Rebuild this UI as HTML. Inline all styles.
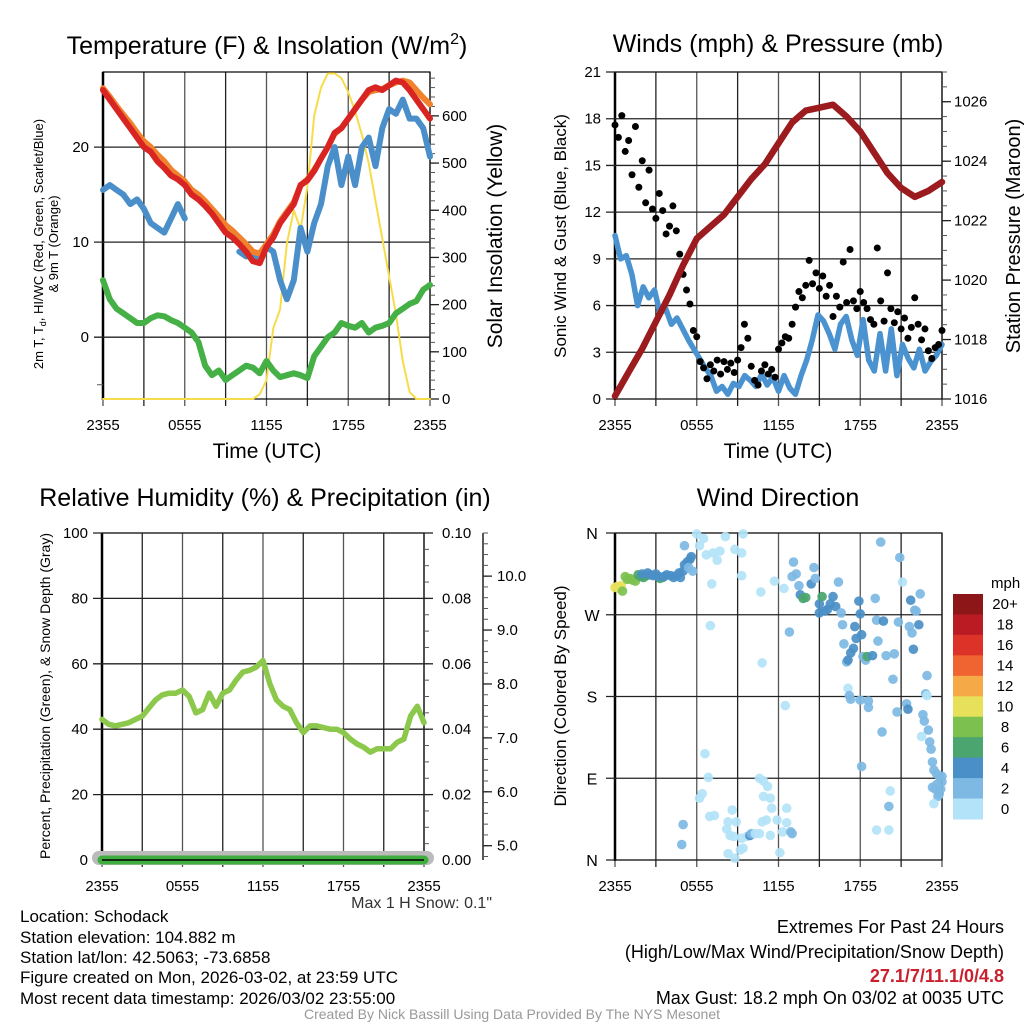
<!DOCTYPE html>
<html><head><meta charset="utf-8"><title>Mesonet Meteogram - Schodack</title>
<style>
html,body{margin:0;padding:0;background:#fff;}
svg{display:block;font-family:"Liberation Sans",Arial,sans-serif;}
</style></head>
<body>
<svg id="fig" width="1024" height="1024" viewBox="0 0 1024 1024" xmlns="http://www.w3.org/2000/svg">
<rect x="0" y="0" width="1024" height="1024" fill="#fff"/>
<g font-size="25" text-anchor="middle" fill="#000">
<text x="267" y="54">Temperature (F) &amp; Insolation (W/m<tspan font-size="16" dy="-10">2</tspan><tspan dy="10">)</tspan></text>
<text x="778" y="52">Winds (mph) &amp; Pressure (mb)</text>
<text x="265" y="506">Relative Humidity (%) &amp; Precipitation (in)</text>
<text x="778" y="506">Wind Direction</text>
</g>
<g font-size="21" text-anchor="middle">
<text x="267" y="458">Time (UTC)</text>
<text x="778" y="458">Time (UTC)</text>
</g>
<g font-size="13" text-anchor="middle">
<text transform="translate(43,244) rotate(-90)">2m T, T<tspan font-size="9" dy="3">d</tspan><tspan dy="-3">, HI/WC (Red, Green, Scarlet/Blue)</tspan></text>
<text transform="translate(58,244) rotate(-90)">&amp; 9m T (Orange)</text>
<text transform="translate(50,696) rotate(-90)" font-size="14">Percent, Precipitation (Green), &amp; Snow Depth (Gray)</text>
</g>
<g font-size="21" text-anchor="middle">
<text transform="translate(502,236) rotate(-90)">Solar Insolation (Yellow)</text>
<text transform="translate(1020,236) rotate(-90)" font-size="20">Station Pressure (Maroon)</text>
</g>
<g font-size="17" text-anchor="middle">
<text transform="translate(566,236) rotate(-90)">Sonic Wind &amp; Gust (Blue, Black)</text>
<text transform="translate(566,696) rotate(-90)">Direction (Colored By Speed)</text>
</g>
<g font-size="17" fill="#000">
<text x="20" y="922">Location: Schodack</text>
<text x="20" y="943">Station elevation: 104.882 m</text>
<text x="20" y="963">Station lat/lon: 42.5063; -73.6858</text>
<text x="20" y="983">Figure created on Mon, 2026-03-02, at 23:59 UTC</text>
<text x="20" y="1004">Most recent data timestamp: 2026/03/02 23:55:00</text>
<text x="492" y="908" font-size="16" text-anchor="end" fill="#333">Max 1 H Snow: 0.1"</text>
</g>
<g font-size="18" text-anchor="end">
<text x="1004" y="933">Extremes For Past 24 Hours</text>
<text x="1004" y="958">(High/Low/Max Wind/Precipitation/Snow Depth)</text>
<text x="1004" y="982" fill="#c8202c" font-weight="bold">27.1/7/11.1/0/4.8</text>
<text x="1004" y="1004">Max Gust: 18.2 mph On 03/02 at 0035 UTC</text>
</g>
<text x="512" y="1019" font-size="14" fill="#999" text-anchor="middle">Created By Nick Bassill Using Data Provided By The NYS Mesonet</text>
<g id="layer"></g>
</svg>
<script>
// ---- Temperature panel data (evenly spaced over 24 h) ----
const timeTickLabels = ["2355","0555","1155","1755","2355"];
const airTemp = [26,25,24,23,22,21,20,19.5,18.5,17.8,17,16.6,16,15,14.5,13.8,13,12,11,10.5,9.8,9,8,7.8,9.5,10.5,12,13,14,16,16.5,17.5,18.8,20,21.5,22,23,24,25,26,26.3,26,26.5,27,26.8,26,25,24,23];
const temp9m = [26.2,25.3,24.3,23.4,22.5,21.5,20.6,20,19.2,18.5,17.6,17,16.4,15.5,15,14.3,13.5,12.7,11.8,11.2,10.5,9.8,9,8.8,9.8,10.8,12.2,13.2,14.2,16,16.6,17.6,18.8,20,21.4,22,23,24,25,25.8,26,26.1,26.5,26.8,27,26.8,26,25.2,24.5];
const heatWindChill = [15.5,16,15.5,15,14,14.5,13.5,12,11.5,11,12.5,14,12.5,null,null,null,null,null,null,null,9,8.5,8.5,8.5,9.5,9,6,4,6,11.5,9,12,14,18,20,16,19,16,20,21,18,22,24,23.5,25,23,23,22,19];
const dewPoint = [6,4,3,2.5,2,1.5,1.5,2,2.3,2.2,1.8,1.5,1,0.5,-0.5,-3,-4,-3.5,-4.5,-4,-3.5,-3,-3.2,-3.8,-2.5,-3.5,-4.2,-4,-3.8,-4,-4.3,-2,-1,0,0.5,1.5,1.2,1,1.5,0.5,1,1.2,1.5,2.5,3,3.5,3.8,5,5.5];
const insolation = [0,0,0,0,0,0,0,0,0,0,0,0,0,0,0,0,0,0,0,0,0,0,0,10,40,150,190,330,400,360,450,600,660,690,690,680,650,610,560,500,420,340,260,180,80,15,0,0,0];
const tempTicks = [0,10,20];
const insolTicks = [0,100,200,300,400,500,600];
// ---- Winds panel data ----
const sonicWind = [10.5,9,9.2,8,6,7.2,6.5,7,5.5,5.8,4.8,5.2,4.5,3.8,3.2,2.6,2,1.5,0.5,0.8,0.3,1,0.8,1.5,1.2,0.8,1.6,0.9,1.4,0.5,1.5,0.7,0.3,1.5,2.5,3.8,5.4,5,4.2,3.2,4.8,5.3,3.8,2.8,5.1,2.5,1.8,4.2,1.8,4.5,1.5,3.5,2.6,2,3.2,1.8,2.4,2.8,3.5];
const gusts = [17.6,16.8,18.2,15.9,16.6,14.4,17.5,13.6,15.3,12.6,14.7,12.2,11.6,13.2,12.1,10.6,11.1,12.4,10.8,9.3,8.0,7.0,6.1,4.4,4.0,2.4,2.0,1.3,2.2,1.8,2.5,1.6,2.4,1.9,2.3,1.7,2.5,3.3,4.8,3.9,2.1,1.2,0.9,1.8,2.2,1.6,1.9,1.4,3.2,3.6,4.0,3.9,4.8,5.9,6.9,6.5,7.3,8.9,7.4,8.1,7.1,7.9,6.6,7.3,5.3,6.6,5.9,8.8,6.2,9.6,6.3,5.8,6.9,6.2,5.8,5.1,4.8,9.7,6.3,5.0,8.1,5.8,4.9,5.6,4.5,5.2,3.9,4.6,6.5,4.8,3.8,4.5,3.1,2.6,3.3,3.5,4.4];
const pressure = [1016.1,1016.9,1017.7,1018.6,1019.5,1020.5,1021.4,1021.8,1022.2,1022.8,1023.4,1023.9,1024.6,1025.3,1025.7,1025.8,1025.9,1025.5,1025,1024.3,1023.6,1023.1,1022.8,1023,1023.3];
const windTicks = [0,3,6,9,12,15,18,21];
const pressureTicks = [1016,1018,1020,1022,1024,1026];
// ---- Humidity panel data ----
const relHumidity = [43,41.5,41,41.5,42,43,44,46.5,49,50.5,51,51,52,50,45,46,51,47,51,52,55,57.5,58,59,61,54,49,47,46,42,39,41,41,40.5,40,40,39,37,35.5,34.5,33,34,34,34,36,37,44,47,42];
const precip = [0,0,0,0,0,0,0,0,0,0,0,0,0,0,0,0,0,0,0,0,0,0,0,0,0];
const rhTicks = [0,20,40,60,80,100];
const precipTickLabels = ["0.00","0.02","0.04","0.06","0.08","0.10"];
const snowTicks = [5,6,7,8,9,10];
// ---- Wind direction panel data ----
const wdTime = [0,0.15,0.3,0.45,0.55,0.75,0.9,1.1,1.3,1.5,1.7,1.9,2.1,2.3,3.3,3.5,2.0,2.4,2.6,2.8,3.0,3.2,3.6,3.8,4.1,4.3,4.5,4.7,4.8,5.0,5.1,5.3,5.5,5.6,5.4,5.7,5.1,6.0,6.5,6.2,6.7,7.2,7.7,7.5,8.1,8.8,9.3,9.4,7.1,9.3,7.0,10.7,10.8,11.7,12.4,12.5,12.8,13.1,13.3,13.0,13.5,13.6,13.8,14.0,14.4,14.6,14.7,15.0,15.0,15.2,15.4,15.6,15.8,16.0,16.2,16.4,16.6,16.7,16.8,17.0,17.1,17.2,17.3,17.1,17.3,17.5,17.7,17.6,17.9,18.0,18.1,18.0,18.1,18.2,18.4,18.6,18.6,18.5,18.9,19.1,19.2,19.3,19.5,19.6,19.7,19.9,20.1,20.2,20.4,20.5,20.7,20.8,20.1,20.9,21.1,21.4,21.5,21.6,21.7,21.8,21.9,22.0,22.1,22.3,22.4,22.5,22.6,22.7,22.8,22.9,22.9,23.0,23.1,23.2,23.3,23.4,23.6,23.8,23.9,24.0,23.7,23.4,23.5,23.6,23.8,24.0,23.3,6.6,6.85,6.4,6.2,6.95,7.3,8.6,8.3,8.9,8.2,8.45,8.7,9.3,9.7,9.9,10.0,10.3,10.6,10.8,11.1,11.4,11.9,12.3,12.6,12.6,12.9,13.0,10.6,10.9,11.2,10.9,11.4,11.5,9.2,9.4,8.3,8.8,12.1,5.0,4.9,19.2];
const wdDir = [300,301,299,302,296,312,309,310,308,307,314,312,311,313,310,311,315,316,314,313,315,312,312,314,313,311,313,316,311,318,325,328,331,334,322,318,346,359,354,346,336,338,340,330,356,342,338,359,304,313,258,295,217,307,299,170,251,328,315,312,302,292,288,289,304,322,310,282,272,290,274,276,282,290,279,306,272,259,238,218,189,181,177,220,228,233,244,257,285,271,248,176,103,224,220,175,168,224,225,288,264,241,350,141,263,225,59,76,199,227,163,262,33,333,306,172,166,257,286,250,232,275,274,259,293,136,160,153,183,203,181,143,130,122,108,99,95,92,78,86,70,62,78,83,73,92,80,117,91,73,68,48,49,55,42,42,34,27,26,24,26,27,29,29,29,42,44,27,44,31,41,57,31,29,90,87,81,70,68,57,11,13,7,2,8,39,17,33];
const wdSpeed = [11,11,11,11,9,9,9,9,9,9,7,7,7,7,7,7,5,5,5,5,5,5,5,5,5,5,5,5,5,5,5,5,5,5,3,3,3,1,1,1,1,1,1,1,1,1,1,1,1,1,1,1,1,1,1,1,3,3,3,3,3,5,7,7,5,3,3,5,5,7,5,5,5,5,5,3,3,3,3,3,1,3,3,5,5,5,5,5,5,5,5,3,3,3,3,3,3,7,5,3,3,3,3,3,5,3,3,1,3,3,3,3,1,3,1,3,5,3,5,3,5,3,3,5,3,1,3,3,3,3,1,3,3,3,3,3,3,3,3,3,3,1,3,3,3,3,3,1,1,1,1,1,1,1,1,1,1,1,1,1,1,5,3,1,1,1,1,1,1,1,1,1,3,3,1,1,1,1,1,1,1,1,1,1,1,3,3,1];
const dirTickLabels = ["N","E","S","W","N"];
const speedBinLabels = ["0","2","4","6","8","10","12","14","16","18","20+"];
const speedColors = ["#b3e3f8","#7db9e3","#4a8fc7","#4aa56e","#7cc14f","#e6e05a","#f6a947","#ef6430","#dd3228","#bb1c24","#8d1619"];

const NS = "http://www.w3.org/2000/svg";
const layer = document.getElementById("layer");
function mk(tag, attrs, parent){
  const el = document.createElementNS(NS, tag);
  for (const k in attrs) el.setAttribute(k, attrs[k]);
  (parent || layer).appendChild(el);
  return el;
}
function scale(d0,d1,r0,r1){ return v => r0 + (v-d0)/(d1-d0)*(r1-r0); }

const panels = {
  temp: {x0:103,x1:430,y0:72,y1:399},
  wind: {x0:615,x1:942,y0:72,y1:399},
  rh:   {x0:102,x1:424,y0:533,y1:860},
  dir:  {x0:615,x1:942,y0:533,y1:860}
};

function frame(p, key){
  const g = mk("g", {});
  
  
  const xs = scale(0,24,p.x0,p.x1);
  for (let i=0;i<=8;i++){
    const x = xs(i*3);
    const gl = mk("line",{x1:x,y1:p.y0,x2:x,y2:p.y1+7,stroke:(i%2?"#222":"#555"),"stroke-width":1.3},g);
    
    
  }
  for (let i=0;i<timeTickLabels.length;i++){
    const t = mk("text",{x:xs(i*6),y:(p.y1+31),"font-size":15,"text-anchor":"middle"},g);
    t.textContent = timeTickLabels[i];
    
    
  }
  const b = mk("rect",{x:p.x0,y:p.y0,width:p.x1-p.x0,height:p.y1-p.y0,fill:"none",stroke:"#000","stroke-width":1.2},g);
  
  
  const la = mk("line",{x1:p.x0,y1:p.y0,x2:p.x0,y2:p.y1+1,stroke:"#000","stroke-width":2.5},g);
  
  
  return {g, xs};
}
function hGrid(g,p,key,ys,ticks,labels,withLabel){
  ticks.forEach((v,i)=>{
    const y = ys(v);
    const l = mk("line",{x1:p.x0-9,y1:y,x2:p.x1,y2:y,stroke:"#222","stroke-width":1.3},g);
    
    
    if (withLabel){
      const t = mk("text",{x:p.x0-14,y:y+5,"font-size":15,"text-anchor":"end"},g);
      t.textContent = labels ? labels[i] : String(v);
      
      
    }
  });
}
function polyline(g, xs, ys, vals, color, width, name){
  let segs=[], cur=[];
  const n = vals.length;
  vals.forEach((v,i)=>{
    if (v===null){ if(cur.length) segs.push(cur); cur=[]; return; }
    cur.push(xs(i/(n-1)*24).toFixed(1)+","+ys(v).toFixed(1));
  });
  if (cur.length) segs.push(cur);
  segs.forEach(s=>{
    const pl = mk("polyline",{points:s.join(" "),fill:"none",stroke:color,"stroke-width":width,"stroke-linejoin":"round","stroke-linecap":"round"},g);
    
    
  });
}
function rightAxis(g,p,key,ys,major,minorStep,lo,hi,fmt,axisX,labelX){
  const ax = axisX===undefined ? p.x1 : axisX;
  for (let v=lo; v<=hi+1e-9; v+=minorStep){
    const y = ys(v);
    const m = mk("line",{x1:ax,y1:y,x2:ax+5,y2:y,stroke:"#555","stroke-width":1},g);
    
    
  }
  major.forEach((v,i)=>{
    const y = ys(v);
    const m = mk("line",{x1:ax,y1:y,x2:ax+9,y2:y,stroke:"#222","stroke-width":1.3},g);
    
    
    const t = mk("text",{x:(labelX||ax+12),y:y+5,"font-size":15},g);
    t.textContent = fmt(v,i);
    
    
  });
}

// ===== Panel 1: temperature =====
(function(){
  const p = panels.temp;
  const {g,xs} = frame(p,"temp");
  const ys = scale(-6.5,27.9,p.y1,p.y0);
  const yr = scale(0,693,p.y1,p.y0);
  hGrid(g,p,"temp",ys,tempTicks,null,true);
  const mt = mk("line",{x1:p.x0-6,y1:ys(-5),x2:p.x0,y2:ys(-5),stroke:"#555"},g);
  
  
  rightAxis(g,p,"temp",yr,insolTicks,20,0,680,v=>String(v));
  polyline(g,xs,yr,insolation,"#f7dc4a",2,"insolation-line");
  polyline(g,xs,ys,dewPoint,"#45b045",6,"dewpoint-line");
  polyline(g,xs,ys,heatWindChill,"#4a8fc9",6,"heat-index-windchill-line");
  polyline(g,xs,ys,temp9m,"#f0822e",6,"temp-9m-line");
  polyline(g,xs,ys,airTemp,"#d92424",6,"temp-2m-line");
})();

// ===== Panel 2: winds =====
(function(){
  const p = panels.wind;
  const {g,xs} = frame(p,"wind");
  const ys = scale(0,21,p.y1,p.y0);
  const yp = scale(1016,1027,p.y1,p.y0);
  hGrid(g,p,"wind",ys,windTicks,null,true);
  rightAxis(g,p,"wind",yp,pressureTicks,0.5,1016,1027,v=>String(v));
  polyline(g,xs,ys,sonicWind,"#4a93d0",5.5,"sonic-wind-line");
  const n = gusts.length;
  gusts.forEach((v,i)=>{
    const c = mk("circle",{cx:xs(i/(n-1)*24),cy:ys(v),r:3.5,fill:"#000"},g);
    
    
  });
  polyline(g,xs,yp,pressure,"#9b1b1e",6.5,"pressure-line");
})();

// ===== Panel 3: humidity =====
(function(){
  const p = panels.rh;
  const {g,xs} = frame(p,"rh");
  const ys = scale(0,100,p.y1,p.y0);
  hGrid(g,p,"rh",ys,rhTicks,null,true);
  rightAxis(g,p,"rh",ys,rhTicks,5,0,100,(v,i)=>precipTickLabels[i],p.x1,p.x1+18);
  const ysn = scale(4.735,10.8,p.y1,p.y0);
  const ax = mk("line",{x1:483,y1:p.y0,x2:483,y2:p.y1,stroke:"#000","stroke-width":1.3},g);
  
  
  rightAxis(g,p,"snow",ysn,snowTicks,0.2,4.8,10.8,v=>v.toFixed(1),483,497);
  const sn = mk("line",{x1:p.x0-3,y1:p.y1-2,x2:p.x1+3,y2:p.y1-2,stroke:"#bbb","stroke-width":14,"stroke-linecap":"round"},g);
  
  
  polyline(g,xs,ys,precip,"#3fae3f",9,"precipitation-line");
  polyline(g,xs,ys,relHumidity,"#8cc84b",5.5,"relative-humidity-line");
  const bl = mk("line",{x1:p.x0,y1:p.y1,x2:p.x1,y2:p.y1,stroke:"#000","stroke-width":1.5},g);
  
  
})();

// ===== Panel 4: wind direction =====
(function(){
  const p = panels.dir;
  const {g,xs} = frame(p,"dir");
  const ys = scale(0,360,p.y1,p.y0);
  hGrid(g,p,"dir",ys,[0,90,180,270,360],null,false);
  dirTickLabels.forEach((lab,i)=>{
    const t = mk("text",{x:592,y:ys(i*90)+6,"font-size":16,"text-anchor":"middle"},g);
    t.textContent = lab;
    
    
  });
  wdTime.forEach((tm,i)=>{
    const bin = Math.min(10, Math.floor(wdSpeed[i]/2));
    const c = mk("circle",{cx:xs(tm),cy:ys(wdDir[i]),r:4.8,fill:speedColors[bin],"fill-opacity":0.92},g);
    
    
  });
  const lg = mk("g",{});
  
  
  const t0 = mk("text",{x:991,y:588,"font-size":15},lg);
  t0.textContent = "mph";
  
  
  const top=594, h=225/11;
  for (let i=0;i<11;i++){
    const k = 10-i;
    const r = mk("rect",{x:953,y:top+i*h,width:30,height:h+0.5,fill:speedColors[k]},lg);
    
    
    const t = mk("text",{x:1005,y:top+i*h+h/2+5,"font-size":15,"text-anchor":"middle"},lg);
    t.textContent = speedBinLabels[k];
    
    
  }
})();
</script>
</body></html>
